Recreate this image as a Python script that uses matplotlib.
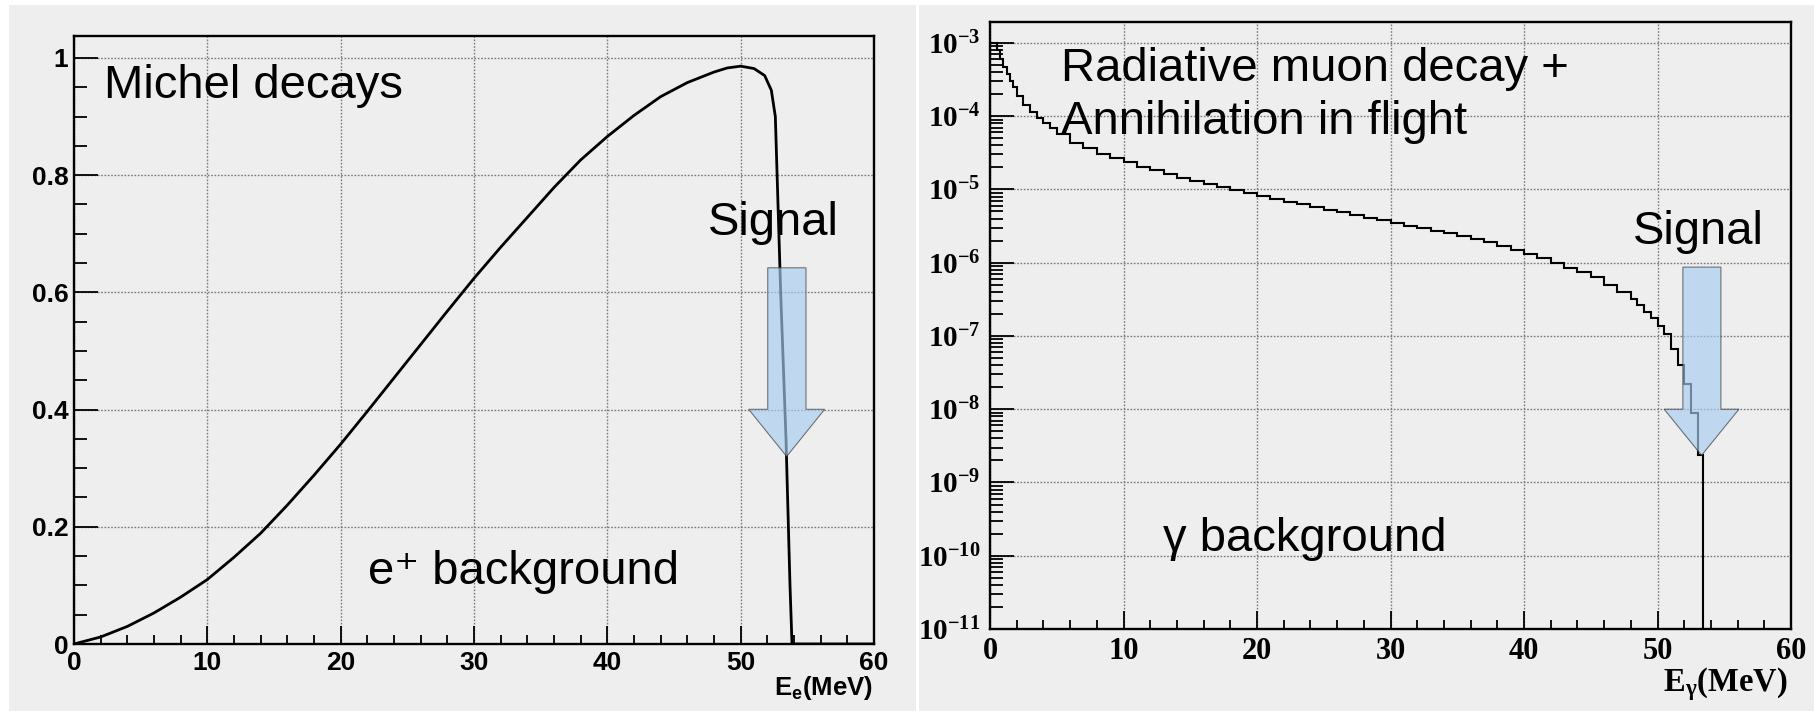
import numpy as np
import matplotlib.pyplot as plt
from matplotlib.patches import Rectangle, Polygon
from matplotlib.ticker import MultipleLocator, FixedLocator, FixedFormatter, LogLocator, NullFormatter

plt.rcParams['mathtext.fontset'] = 'custom'
plt.rcParams['mathtext.bf'] = 'Liberation Serif:bold'
plt.rcParams['mathtext.sf'] = 'Liberation Sans:bold'

# --- data ---
# left: Michel positron spectrum (normalised)
michel_e = [0, 2, 4, 6, 8, 10, 12, 14, 16, 18, 20, 22, 24, 26, 28, 30, 32, 34, 36,
            38, 40, 42, 44, 46, 48, 49, 50, 51, 51.8, 52.3, 52.6, 53.0, 53.4, 53.7,
            53.85, 60]
michel_y = [0, 0.012, 0.03, 0.053, 0.08, 0.11, 0.148, 0.189, 0.237, 0.288, 0.341,
            0.397, 0.454, 0.511, 0.568, 0.624, 0.677, 0.728, 0.779, 0.826, 0.866,
            0.902, 0.934, 0.958, 0.976, 0.983, 0.986, 0.982, 0.97, 0.945, 0.9, 0.6,
            0.35, 0.1, 0, 0]

# right: photon background histogram (bin edges, log10 of content)
rad_edges = [0, 0.25, 0.5, 0.75, 1.0, 1.25, 1.5, 1.75, 2.0, 2.5, 3.0, 3.5, 4.0, 4.5,
             5, 6, 7, 8, 9, 10, 11, 12, 13, 14, 15, 16, 17, 18, 19, 20, 21, 22, 23,
             24, 25, 26, 27, 28, 29, 30, 31, 32, 33, 34, 35, 36, 37, 38, 39, 40, 41,
             42, 43, 44, 45, 46, 47, 48, 48.5, 49, 49.5, 50, 50.5, 51, 51.5, 52,
             52.5, 53, 53.4, 60]
rad_log = [-3.0, -3.0, -3.1, -3.22, -3.33, -3.43, -3.52, -3.6, -3.72, -3.85, -3.94,
           -4.02, -4.09, -4.16, -4.25, -4.36, -4.44, -4.51, -4.57, -4.63, -4.69,
           -4.74, -4.79, -4.84, -4.89, -4.93, -4.97, -5.01, -5.05, -5.09, -5.13,
           -5.17, -5.2, -5.24, -5.28, -5.31, -5.35, -5.39, -5.42, -5.46, -5.5,
           -5.53, -5.57, -5.6, -5.63, -5.67, -5.72, -5.77, -5.82, -5.88, -5.93,
           -6.0, -6.07, -6.13, -6.2, -6.3, -6.4, -6.5, -6.58, -6.67, -6.76, -6.87,
           -6.97, -7.18, -7.4, -7.65, -8.05, -8.62, -13]
rad_y = 10.0 ** np.array(rad_log)

lin_ticks = [0, 0.2, 0.4, 0.6, 0.8, 1.0]
lin_labels = ['0', '0.2', '0.4', '0.6', '0.8', '1']
log_ticks = 10.0 ** np.arange(-11, -2)
log_labels = [r'$\mathbf{10^{%d}}$' % p for p in range(-11, -2)]

# signal arrows (x: left/right of shaft, left/right of head, tip; y: top, head base, tip)
arrow_left = dict(x=(52.03, 54.9, 50.6, 56.3, 53.45), y=(0.642, 0.4005, 0.32))
arrow_right = dict(x=(51.9, 54.75, 50.5, 56.1, 53.3), y=(10**-6.06, 1e-8, 10**-8.63))

W, H = 1814, 711
BG = '#eeeeee'
fig = plt.figure(figsize=(W / 100, H / 100), dpi=100, facecolor='white')


def fx(px):
    return px / W


def fy(py):
    return 1 - py / H


fig.patches.append(Rectangle((fx(9), 0), fx(907), 1 - 5 / H, transform=fig.transFigure,
                             facecolor=BG, edgecolor='none', zorder=-10))
fig.patches.append(Rectangle((fx(919), 0), fx(895), 1 - 5 / H, transform=fig.transFigure,
                             facecolor=BG, edgecolor='none', zorder=-10))

ax1 = fig.add_axes([fx(74), fy(644), fx(800), 608 / H])
ax2 = fig.add_axes([fx(990), fy(629), fx(801), 607 / H])


def draw_arrow(ax, a):
    xl, xr, hl, hr, tx = a['x']
    top, base, tip = a['y']
    verts = [(xl, top), (xr, top), (xr, base), (hr, base), (tx, tip), (hl, base), (xl, base)]
    ax.add_patch(Polygon(verts, closed=True, facecolor='#a6cdf2', alpha=0.65,
                         edgecolor='#333333', lw=0.8, zorder=5))


for ax in (ax1, ax2):
    ax.set_facecolor(BG)
    ax.set_xlim(0, 60)
    ax.xaxis.set_major_locator(MultipleLocator(10))
    ax.xaxis.set_minor_locator(MultipleLocator(2))
    ax.grid(True, which='major', ls=(0, (1.2, 1.2)), color='#7a7a7a', lw=1.0)
    ax.set_axisbelow(True)
    for s in ax.spines.values():
        s.set_linewidth(1.7)
    ax.tick_params(which='both', direction='in', top=False, right=False, width=1.3)
    ax.tick_params(axis='x', which='major', length=13)
    ax.tick_params(axis='x', which='minor', length=6.5)
    ax.tick_params(axis='y', which='major', length=17)
    ax.tick_params(axis='y', which='minor', length=9)

# left panel
ax1.plot(michel_e, michel_y, color='black', lw=2.0, zorder=3)
ax1.set_ylim(0, 1.0375)
ax1.yaxis.set_major_locator(FixedLocator(lin_ticks))
ax1.yaxis.set_major_formatter(FixedFormatter(lin_labels))
ax1.yaxis.set_minor_locator(MultipleLocator(0.05))
for lab in ax1.get_xticklabels() + ax1.get_yticklabels():
    lab.set_fontfamily('Liberation Sans')
    lab.set_fontweight('bold')
    lab.set_fontsize(19)
ax1.tick_params(axis='x', pad=5)
ax1.tick_params(axis='y', pad=4)
draw_arrow(ax1, arrow_left)

# right panel
ax2.stairs(rad_y, rad_edges, color='black', lw=1.5, baseline=None, zorder=3)
ax2.set_yscale('log')
ax2.set_ylim(1e-11, 1.93e-3)
ax2.yaxis.set_major_locator(FixedLocator(log_ticks))
ax2.yaxis.set_major_formatter(FixedFormatter(log_labels))
ax2.yaxis.set_minor_locator(LogLocator(base=10, subs=np.arange(2, 10), numticks=30))
ax2.yaxis.set_minor_formatter(NullFormatter())
for lab in ax2.get_xticklabels():
    lab.set_fontfamily('Liberation Serif')
    lab.set_fontweight('bold')
    lab.set_fontsize(22)
for lab in ax2.get_yticklabels():
    lab.set_fontsize(21)
ax2.tick_params(axis='x', pad=6)
ax2.tick_params(axis='y', pad=7)
draw_arrow(ax2, arrow_right)

# axis titles
fig.text(fx(873), fy(688), r'$\mathsf{E_e(MeV)}$', ha='right', va='center', fontsize=18.5)
fig.text(fx(1788), fy(684), r'$\mathbf{E_\gamma(MeV)}$', ha='right', va='center', fontsize=23.5)

# annotations
ann = dict(fontsize=34, family=['Liberation Sans', 'DejaVu Sans'], ha='left', va='baseline')
fig.text(fx(104), fy(98), 'Michel decays', **ann)
fig.text(fx(708), fy(235), 'Signal', **ann)
fig.text(fx(368), fy(584), 'e⁺ background', **ann)
fig.text(fx(1061), fy(81), 'Radiative muon decay +', **ann)
fig.text(fx(1061), fy(134), 'Annihilation in flight', **ann)
fig.text(fx(1633), fy(244), 'Signal', **ann)
fig.text(fx(1163), fy(551), 'γ background', **ann)

fig.savefig('out.png', dpi=100, facecolor='white')
